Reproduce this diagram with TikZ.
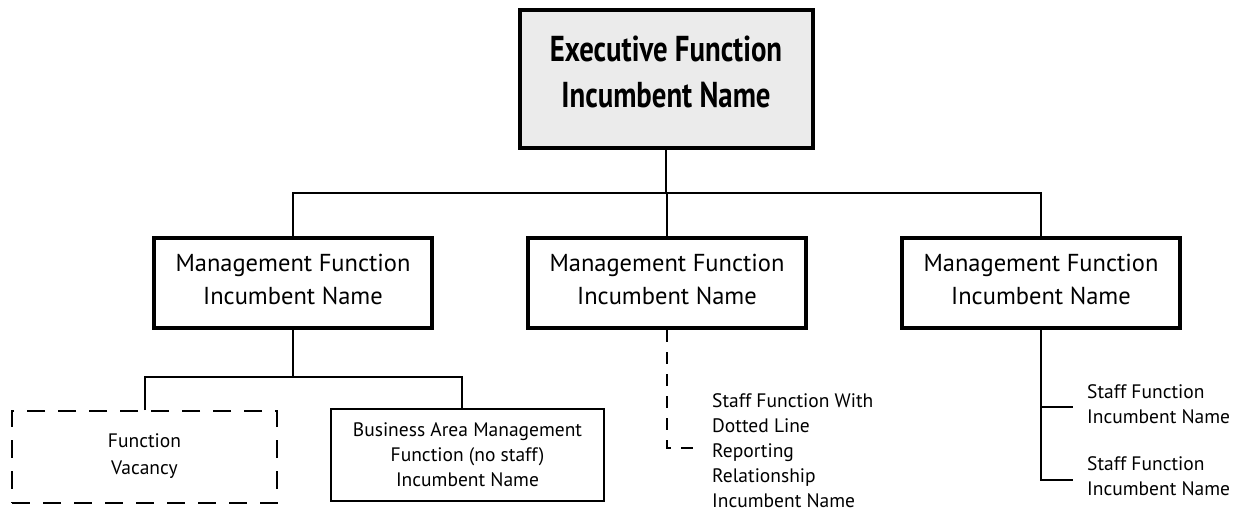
\documentclass[tikz,border=0pt]{standalone}
\usepackage{fontspec}
\setmainfont{PT Sans}
\newfontfamily\headfont[FakeStretch=0.8]{PT Sans Bold}
\begin{document}
\begin{tikzpicture}[x=1pt,y=-1pt,
  topbox/.style={draw, line width=4pt, fill=black!8, minimum width=293pt, minimum height=138pt, inner sep=0pt, text depth=14pt, align=center, font=\headfont\fontsize{36}{46}\selectfont},
  mgmtbox/.style={draw, line width=4pt, minimum width=278pt, minimum height=90pt, inner sep=0pt, text depth=8pt, align=center, font=\fontsize{24.5}{33}\selectfont},
  lowbox/.style={draw, line width=2pt, inner sep=0pt, align=center, font=\fontsize{19.5}{25}\selectfont},
  vacbox/.style={lowbox, dash pattern=on 18pt off 13pt, text depth=6pt, font=\fontsize{19.5}{27}\selectfont},
  stafftext/.style={inner sep=0pt, anchor=west, align=left, font=\fontsize{19.5}{25}\selectfont},
  link/.style={line width=2pt},
  dlink/.style={line width=2pt, dash pattern=on 12pt off 10pt}]
\useasboundingbox (0,0) rectangle (1245,512);
\node[topbox] (top) at (666,79) {Executive Function\\Incumbent Name};
\node[mgmtbox] (m1) at (293,283) {Management Function\\Incumbent Name};
\node[mgmtbox] (m2) at (667,283) {Management Function\\Incumbent Name};
\node[mgmtbox] (m3) at (1041,283) {Management Function\\Incumbent Name};
\node[vacbox, minimum width=265pt, minimum height=92pt] (vac) at (144.5,457) {Function\\Vacancy};
\node[lowbox, minimum width=273pt, minimum height=92pt] (biz) at (467.5,455) {Business Area Management\\Function (no staff)\\Incumbent Name};
\node[stafftext] (sd) at (712,451) {Staff Function With\\Dotted Line\\Reporting\\Relationship\\Incumbent Name};
\node[stafftext] (s1) at (1087,404) {Staff Function\\Incumbent Name};
\node[stafftext] (s2) at (1087,476) {Staff Function\\Incumbent Name};
\coordinate (bar) at (666,193);
\coordinate (lbar) at (293,377);
\coordinate (vt) at (145,377);
\coordinate (bt) at (462,377);
\coordinate (dend) at (693,448);
\coordinate (r1) at (1073,407);
\coordinate (r2) at (1073,480);
\draw[link] (top.south) -- (bar);
\draw[link] (m1.north) |- (bar) -| (m3.north);
\draw[link] (m2.north) -- (m2.north |- bar);
\draw[link] (m1.south) -- (lbar);
\draw[link] (vac.north -| vt) -- (vt) -- (bt) -- (biz.north -| bt);
\draw[dlink] (m2.south) |- (dend);
\draw[link] (m3.south) |- (r2);
\draw[link] (m3.south |- r1) -- (r1);
\end{tikzpicture}
\end{document}
